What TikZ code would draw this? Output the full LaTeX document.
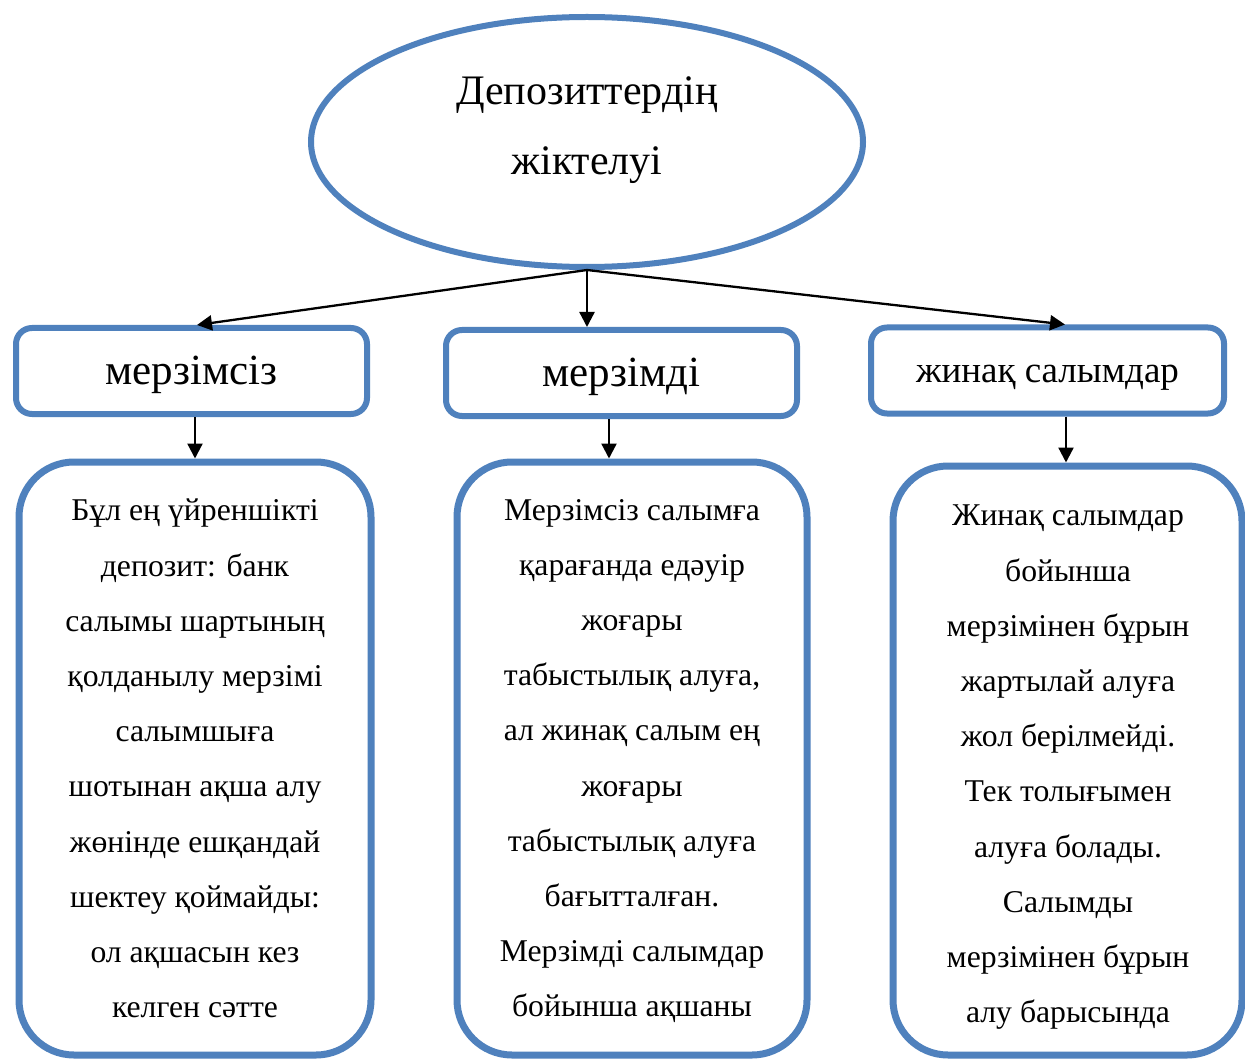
\documentclass[tikz,border=0pt]{standalone}
\usepackage{fontspec}
\setmainfont{Liberation Serif}
\usetikzlibrary{shapes.geometric,arrows.meta}
\definecolor{boxblue}{HTML}{4F81BD}
\begin{document}
\begin{tikzpicture}[x=1pt,y=-1pt,
  rootshape/.style={ellipse,draw=boxblue,line width=6pt,fill=white,minimum width=552pt,minimum height=250pt,inner sep=0pt},
  roottext/.style={align=center,inner sep=0pt,font=\fontsize{42}{70}\selectfont},
  topbox/.style={draw=boxblue,line width=6pt,rounded corners=16pt,fill=white,minimum height=86pt,inner sep=0pt},
  bigtitle/.style={font=\fontsize{43}{50}\selectfont,text height=37pt,text depth=9.5pt},
  smalltitle/.style={font=\fontsize{37}{44}\selectfont,text height=32pt,text depth=8pt},
  textbox/.style={draw=boxblue,line width=7pt,rounded corners=55pt,fill=white,inner sep=0pt},
  bodytext/.style={align=center,inner sep=0pt,anchor=north,font=\fontsize{31.7}{55.2}\selectfont},
  arr/.style={-{Triangle[length=15pt,width=15pt]},line width=2.3pt}
]
\useasboundingbox (0,0) rectangle (1245,1059);
\fill[white] (0,0) rectangle (1245,1059);

\node[rootshape] (root) at (587,142) {};
\node[roottext] (rootlabel) at (587,130) {Депозиттердің\\жіктелуі};

\node[topbox,bigtitle,minimum width=351pt] (b1) at (191.5,371) {мерзімсіз};
\node[topbox,bigtitle,minimum width=351pt] (b2) at (621.5,373) {мерзімді};
\node[topbox,smalltitle,minimum width=353pt] (b3) at (1047.5,370.5) {жинақ салымдар};

\node[textbox,minimum width=352pt,minimum height=593pt] (t1) at (195,758.5) {};
\node[textbox,minimum width=350pt,minimum height=593pt] (t2) at (632,758.5) {};
\node[textbox,minimum width=349pt,minimum height=589pt] (t3) at (1067.5,760.5) {};

\node[bodytext] (x1) at (195,499) {Бұл ең үйреншікті\\депозит: банк\\салымы шартының\\қолданылу мерзімі\\салымшыға\\шотынан ақша алу\\жөнінде ешқандай\\шектеу қоймайды:\\ол ақшасын кез\\келген сәтте};
\node[bodytext] (x2) at (632,499) {Мерзімсіз салымға\\қарағанда едәуір\\жоғары\\табыстылық алуға,\\ал жинақ салым ең\\жоғары\\табыстылық алуға\\бағытталған.\\Мерзімді салымдар\\бойынша ақшаны};
\node[bodytext] (x3) at (1068,505) {Жинақ салымдар\\бойынша\\мерзімінен бұрын\\жартылай алуға\\жол берілмейді.\\Тек толығымен\\алуға болады.\\Салымды\\мерзімінен бұрын\\алу барысында};

\draw[arr] (root.south) -- ([xshift=5.5pt]b1.north);
\draw[arr] (root.south) -- (root.south |- b2.north);
\draw[arr] (root.south) -- ([xshift=17.5pt]b3.north);

\draw[arr] ([xshift=3.5pt]b1.south) -- ([xshift=3.5pt]b1.south |- t1.north);
\draw[arr] ([xshift=-12.5pt]b2.south) -- ([xshift=-12.5pt]b2.south |- t2.north);
\draw[arr] ([xshift=18.5pt]b3.south) -- ([xshift=18.5pt]b3.south |- t3.north);
\end{tikzpicture}
\end{document}
